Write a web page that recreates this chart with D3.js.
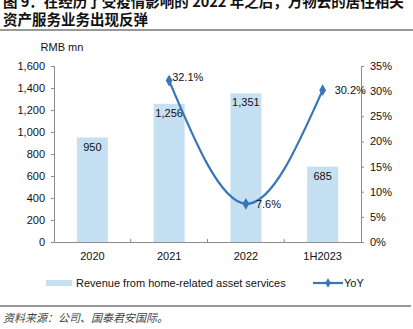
<!DOCTYPE html>
<html>
<head>
<meta charset="utf-8">
<script src="https://cdn.jsdelivr.net/npm/d3@7"></script>
<style>
  body { margin: 0; background: #fff; }
  svg { display: block; font-family: "Liberation Sans", Arial, sans-serif; }
  .cjk { font-family: "Noto Sans CJK SC", sans-serif; }
</style>
</head>
<body>
<svg id="chart" width="413" height="329"></svg>
<script>
// revenue (RMB mn) and YoY growth (%)
var categories = ["2020", "2021", "2022", "1H2023"];
var revenue = [950, 1256, 1351, 685];
var yoy = [null, 32.1, 7.6, 30.2];
var leftTicks = [0, 200, 400, 600, 800, 1000, 1200, 1400, 1600];
var rightTicks = [0, 5, 10, 15, 20, 25, 30, 35];

var svg = d3.select("#chart");
var plotLeft = 54, plotRight = 361, plotTop = 66, plotBottom = 242;

var x = d3.scaleBand().domain(categories).range([plotLeft, plotRight]);
var y = d3.scaleLinear().domain([0, 1600]).range([plotBottom, plotTop]);
var y2 = d3.scaleLinear().domain([0, 35]).range([plotBottom, plotTop]);

// title
var title = svg.append("text").attr("class", "cjk")
    .attr("font-size", 14.5).attr("font-weight", "bold").attr("fill", "#111");
title.append("tspan").attr("x", 3).attr("y", 7).text("图 9：在经历了受疫情影响的 2022 年之后，万物云的居住相关");
title.append("tspan").attr("x", 3).attr("y", 25).text("资产服务业务出现反弹");
svg.append("line").attr("x1", 0).attr("x2", 413).attr("y1", 30).attr("y2", 30)
    .attr("stroke", "#333").attr("stroke-width", 1);

svg.append("text").attr("x", 62).attr("y", 51).attr("text-anchor", "middle")
    .attr("font-size", 11).attr("fill", "#111").text("RMB mn");

// bars
var barW = 31;
svg.append("g").selectAll("rect").data(revenue).enter().append("rect")
    .attr("x", function(d, i) { return x(categories[i]) + x.bandwidth() / 2 - barW / 2; })
    .attr("y", function(d) { return y(d); })
    .attr("width", barW)
    .attr("height", function(d) { return plotBottom - y(d); })
    .attr("fill", "#c5e0f3");

svg.append("g").selectAll("text").data(revenue).enter().append("text")
    .attr("x", function(d, i) { return x(categories[i]) + x.bandwidth() / 2; })
    .attr("y", function(d) { return y(d) + 13; })
    .attr("text-anchor", "middle").attr("font-size", 11).attr("fill", "#111")
    .text(function(d) { return d3.format(",")(d); });

// axes
var axisColor = "#8c8c8c";
var gl = svg.append("g").attr("transform", "translate(" + plotLeft + ",0)")
    .call(d3.axisLeft(y).tickValues(leftTicks).tickSize(3).tickPadding(6).tickFormat(d3.format(",")));
var gr = svg.append("g").attr("transform", "translate(" + plotRight + ",0)")
    .call(d3.axisRight(y2).tickValues(rightTicks).tickSize(3).tickPadding(6).tickFormat(function(d) { return d + "%"; }));
var gx = svg.append("g").attr("transform", "translate(0," + plotBottom + ")")
    .call(d3.axisBottom(x).tickSize(0).tickPadding(10));
[gl, gr, gx].forEach(function(g) {
  g.select(".domain").attr("stroke", axisColor);
  g.selectAll(".tick line").attr("stroke", axisColor);
  g.selectAll("text").attr("font-size", 11).attr("fill", "#111")
    .attr("font-family", "Liberation Sans, Arial, sans-serif");
});
// category divider ticks on the x axis
svg.append("g").selectAll("line").data(categories.slice(1)).enter().append("line")
    .attr("x1", function(d) { return x(d); }).attr("x2", function(d) { return x(d); })
    .attr("y1", plotBottom).attr("y2", plotBottom - 3).attr("stroke", axisColor);

// YoY line (smoothed)
var pts = yoy.map(function(d, i) { return { c: categories[i], v: d }; })
    .filter(function(d) { return d.v !== null; });
var lineColor = "#3776b8";
var line = d3.line()
    .x(function(d) { return x(d.c) + x.bandwidth() / 2; })
    .y(function(d) { return y2(d.v); })
    .curve(d3.curveNatural);
svg.append("path").datum(pts).attr("d", line)
    .attr("fill", "none").attr("stroke", lineColor).attr("stroke-width", 2.2);

svg.append("g").selectAll("path").data(pts).enter().append("path")
    .attr("d", d3.symbol().type(d3.symbolDiamond).size(40))
    .attr("transform", function(d) { return "translate(" + (x(d.c) + x.bandwidth() / 2) + "," + y2(d.v) + ")"; })
    .attr("fill", lineColor);

var labelOffsets = [[3, 0], [10, 4], [12, 4]];
svg.append("g").selectAll("text").data(pts).enter().append("text")
    .attr("x", function(d, i) { return x(d.c) + x.bandwidth() / 2 + labelOffsets[i][0]; })
    .attr("y", function(d, i) { return y2(d.v) + labelOffsets[i][1]; })
    .attr("font-size", 11).attr("fill", "#111")
    .text(function(d) { return d.v.toFixed(1) + "%"; });

// legend
svg.append("rect").attr("x", 46).attr("y", 280).attr("width", 26).attr("height", 6).attr("fill", "#c5e0f3");
svg.append("text").attr("x", 76).attr("y", 287).attr("font-size", 11).attr("fill", "#111")
    .text("Revenue from home-related asset services");
svg.append("line").attr("x1", 313).attr("x2", 343).attr("y1", 283).attr("y2", 283)
    .attr("stroke", lineColor).attr("stroke-width", 2.2);
svg.append("path").attr("d", d3.symbol().type(d3.symbolDiamond).size(25))
    .attr("transform", "translate(328,283)").attr("fill", lineColor);
svg.append("text").attr("x", 344).attr("y", 287).attr("font-size", 11).attr("fill", "#111").text("YoY");

// source
svg.append("line").attr("x1", 0).attr("x2", 411).attr("y1", 306).attr("y2", 306)
    .attr("stroke", "#333").attr("stroke-width", 1);
svg.append("text").attr("class", "cjk").attr("x", 3).attr("y", 322)
    .attr("font-size", 11).attr("font-style", "italic").attr("fill", "#444")
    .text("资料来源：公司、国泰君安国际。");
</script>
</body>
</html>
